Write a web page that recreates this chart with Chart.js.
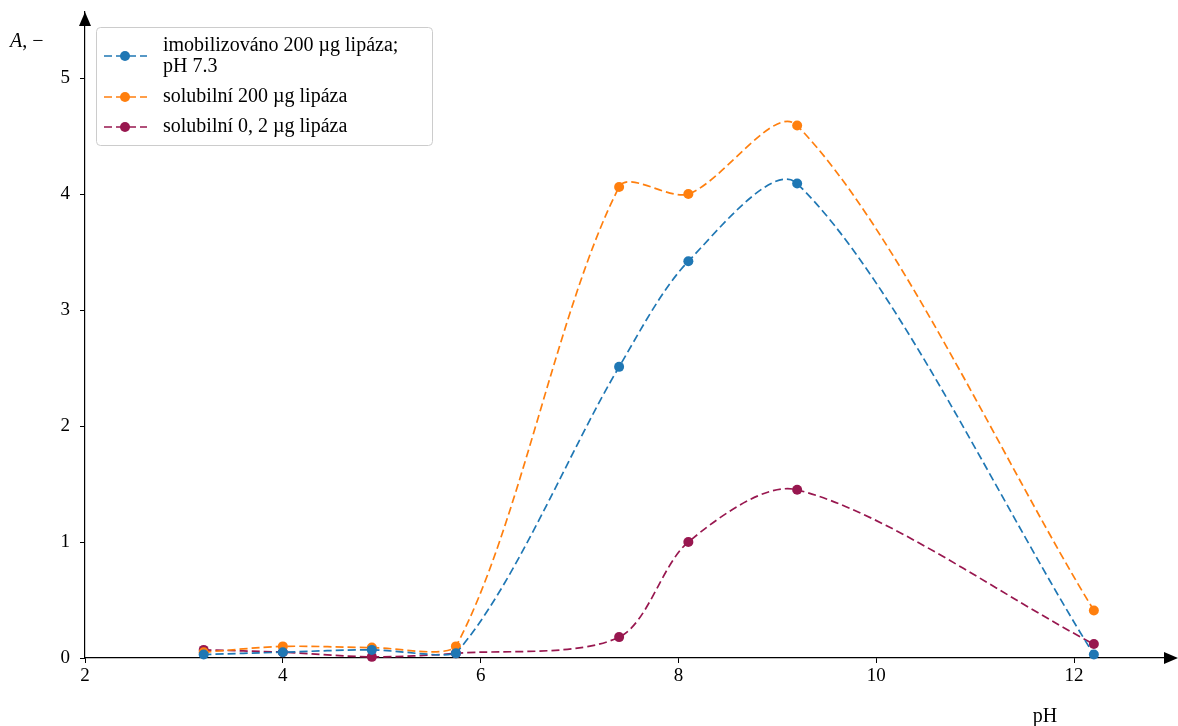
<!DOCTYPE html>
<html>
<head>
<meta charset="utf-8">
<script src="https://cdn.jsdelivr.net/npm/chart.js@4/dist/chart.umd.min.js"></script>
<style>
  html, body { margin: 0; padding: 0; background: #fff; }
  #wrap { width: 1178px; height: 726px; }
</style>
</head>
<body>
<div id="wrap"><canvas id="phChart" width="1178" height="726"></canvas></div>
<script>
const ph_values = [3.2, 4.0, 4.9, 5.75, 7.4, 8.1, 9.2, 12.2]
const imob_200 = [0.03, 0.05, 0.07, 0.04, 2.51, 3.42, 4.09, 0.03]
const sol_200 = [0.05, 0.10, 0.09, 0.10, 4.06, 4.00, 4.59, 0.41]
const sol_02 = [0.07, 0.05, 0.01, 0.04, 0.18, 1.00, 1.45, 0.12]

const series_labels = [
  ["imobilizováno 200 µg lipáza;", "pH 7.3"],
  ["solubilní 200 µg lipáza"],
  ["solubilní 0, 2 µg lipáza"]
]
const series_colors = ["#1f77b4", "#ff7f0e", "#98174f"]

const x_ticks = [2, 4, 6, 8, 10, 12]
const y_ticks = [0, 1, 2, 3, 4, 5]

const font_family = "'Liberation Serif', serif"
const dash = [8, 4]

function make_points(ys)
{
  return ph_values.map((x, i) => ({ x: x, y: ys[i] }))
}

function make_dataset(label, ys, color)
{
  return {
    label: label.join(" "),
    data: make_points(ys),
    borderColor: color,
    backgroundColor: color,
    borderWidth: 1.7,
    borderDash: dash,
    tension: 0.3,
    pointRadius: 5,
    pointHoverRadius: 5,
    pointBorderWidth: 0,
    clip: false
  }
}

function no_padding(s)
{
  s.paddingTop = 0
  s.paddingBottom = 0
  s.paddingLeft = 0
  s.paddingRight = 0
}

// axes arrows, axis titles and the boxed legend
const decor_plugin =
{
  id: "decor",
  afterDraw(chart)
  {
    const ctx = chart.ctx
    const area = chart.chartArea
    ctx.save()

    // arrow heads
    ctx.fillStyle = "#000"
    ctx.beginPath()
    ctx.moveTo(area.left, area.top)
    ctx.lineTo(area.left - 6, area.top + 14)
    ctx.lineTo(area.left + 6, area.top + 14)
    ctx.closePath()
    ctx.fill()

    ctx.beginPath()
    ctx.moveTo(1178, area.bottom)
    ctx.lineTo(1164, area.bottom - 6)
    ctx.lineTo(1164, area.bottom + 6)
    ctx.closePath()
    ctx.fill()

    // axis titles
    ctx.fillStyle = "#000"
    ctx.textBaseline = "middle"
    ctx.textAlign = "left"
    ctx.font = "italic 20px " + font_family
    ctx.fillText("A", 10, 42)
    const a_w = ctx.measureText("A").width
    ctx.font = "20px " + font_family
    ctx.fillText(", −", 10 + a_w, 42)

    ctx.textAlign = "center"
    ctx.fillText("pH", 1045, 717)

    // legend box
    const bx = 96, by = 27, bw = 336, bh = 118
    ctx.fillStyle = "rgba(255,255,255,0.8)"
    ctx.strokeStyle = "#cccccc"
    ctx.lineWidth = 1
    ctx.beginPath()
    ctx.roundRect(bx + 0.5, by + 0.5, bw, bh, 4)
    ctx.fill()
    ctx.stroke()

    const row_y = [56, 97, 127]
    ctx.font = "20px " + font_family
    ctx.textAlign = "left"
    series_labels.forEach((lines, i) =>
    {
      const y = row_y[i]
      ctx.strokeStyle = series_colors[i]
      ctx.fillStyle = series_colors[i]
      ctx.lineWidth = 1.7
      ctx.setLineDash(dash)
      ctx.beginPath()
      ctx.moveTo(104, y)
      ctx.lineTo(147, y)
      ctx.stroke()
      ctx.setLineDash([])
      ctx.beginPath()
      ctx.arc(125, y, 5, 0, Math.PI * 2)
      ctx.fill()

      ctx.fillStyle = "#000"
      if (lines.length === 1)
      {
        ctx.fillText(lines[0], 163, y)
      }
      else
      {
        ctx.fillText(lines[0], 163, y - 10)
        ctx.fillText(lines[1], 163, y + 11)
      }
    })

    ctx.restore()
  }
}

const chart_context = document.getElementById("phChart").getContext("2d")

const ph_chart = new Chart(chart_context,
{
  type: "line",
  data:
  {
    datasets:
    [
      make_dataset(series_labels[0], imob_200, series_colors[0]),
      make_dataset(series_labels[1], sol_200, series_colors[1]),
      make_dataset(series_labels[2], sol_02, series_colors[2])
    ]
  },
  options:
  {
    responsive: false,
    animation: false,
    layout: { padding: { top: 12, right: 4, left: 0, bottom: 0 } },
    plugins:
    {
      legend: { display: false },
      tooltip: { enabled: false }
    },
    scales:
    {
      x:
      {
        type: "linear",
        min: 2,
        max: 13,
        afterBuildTicks: (s) => { s.ticks = x_ticks.map(v => ({ value: v })) },
        afterFit: (s) => { s.height = 68; no_padding(s) },
        grid: { drawOnChartArea: false, drawTicks: true, tickLength: 5, color: "#000", tickWidth: 1 },
        border: { display: true, color: "#000", width: 1.2 },
        ticks: { color: "#000", padding: 2, font: { family: font_family, size: 19 }, maxRotation: 0 }
      },
      y:
      {
        type: "linear",
        min: 0,
        max: 5.569,
        afterBuildTicks: (s) => { s.ticks = y_ticks.map(v => ({ value: v })) },
        afterFit: (s) => { s.width = 85; no_padding(s) },
        grid: { drawOnChartArea: false, drawTicks: true, tickLength: 5, color: "#000", tickWidth: 1 },
        border: { display: true, color: "#000", width: 1.2 },
        ticks: { color: "#000", padding: 10, font: { family: font_family, size: 19 } }
      }
    }
  },
  plugins: [decor_plugin]
})
</script>
</body>
</html>
